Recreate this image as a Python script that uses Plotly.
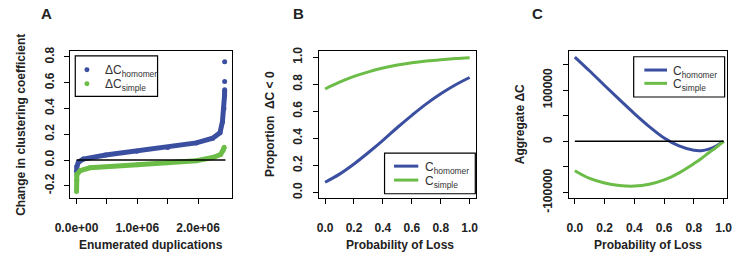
import plotly.graph_objects as go

# ---------------- data ----------------
# Panel A: sorted change in clustering coefficient per enumerated duplication
a_homomer_x = [0, 5e3, 3e4, 1.1e5, 4.8e5, 9.9e5, 1.5e6, 1.97e6, 2.24e6, 2.36e6, 2.40e6, 2.425e6, 2.435e6, 2.437e6]
a_homomer_y = [-0.09, -0.05, -0.017, 0.007, 0.039, 0.068, 0.097, 0.133, 0.169, 0.212, 0.296, 0.40, 0.50, 0.545]
a_homomer_out_x = [2.437e6, 2.437e6]
a_homomer_out_y = [0.61, 0.762]
a_simple_x = [0, 2e3, 5e3, 6e4, 2.2e5, 1.0e6, 1.5e6, 1.97e6, 2.24e6, 2.37e6, 2.41e6, 2.43e6]
a_simple_y = [-0.245, -0.16, -0.113, -0.082, -0.06, -0.036, -0.022, -0.005, 0.019, 0.043, 0.075, 0.10]
a_n_dup = 2.45e6

# Panels B and C: probability of loss
p_loss = [0.0, 0.1, 0.2, 0.3, 0.4, 0.5, 0.6, 0.7, 0.8, 0.9, 1.0]
b_homomer = [0.075, 0.135, 0.21, 0.295, 0.385, 0.48, 0.57, 0.655, 0.73, 0.795, 0.85]
b_simple = [0.765, 0.815, 0.858, 0.892, 0.92, 0.942, 0.959, 0.972, 0.982, 0.99, 0.996]

c_x = [0.0, 0.1, 0.2, 0.3, 0.4, 0.5, 0.6, 0.7, 0.8, 0.85, 0.9, 0.95, 1.0]
c_homomer = [164500, 137300, 109000, 81300, 54200, 28900, 6600, -9000, -17500, -18100, -15100, -9000, 0]
c_simple = [-57200, -72300, -81300, -86100, -87300, -83700, -75300, -61400, -43400, -33300, -22300, -11500, 0]

a_xticks = [0, 1e6, 2e6]
a_xtext = ["0.0e+00", "1.0e+06", "2.0e+06"]
a_xminor = [5e5, 1.5e6]
a_yticks = [-0.2, 0.0, 0.2, 0.4, 0.6, 0.8]
a_ytext = ["-0.2", "0.0", "0.2", "0.4", "0.6", "0.8"]
p_ticks = [0.0, 0.2, 0.4, 0.6, 0.8, 1.0]
p_text = ["0.0", "0.2", "0.4", "0.6", "0.8", "1.0"]
c_yticks = [-100000, 0, 100000]
c_ytext = ["-100000", "0", "100000"]
c_yminor = [-50000, 50000, 150000]

BLUE = "#3b4fa0"
GREEN = "#6cbd48"
W, H = 741, 272
FONT = "Liberation Sans, Arial, sans-serif"


def px(x):
    return x / W


def py(y):
    return 1 - y / H


fig = go.Figure()

# Panel A
fig.add_trace(go.Scatter(x=a_homomer_x, y=a_homomer_y, mode="lines+markers",
                         line=dict(color=BLUE, width=5), marker=dict(color=BLUE, size=5),
                         xaxis="x", yaxis="y", showlegend=False))
fig.add_trace(go.Scatter(x=a_homomer_out_x, y=a_homomer_out_y, mode="markers",
                         marker=dict(color=BLUE, size=5), xaxis="x", yaxis="y", showlegend=False))
fig.add_trace(go.Scatter(x=a_simple_x, y=a_simple_y, mode="lines+markers",
                         line=dict(color=GREEN, width=5), marker=dict(color=GREEN, size=5),
                         xaxis="x", yaxis="y", showlegend=False))
fig.add_trace(go.Scatter(x=[0, a_n_dup], y=[0, 0], mode="lines", line=dict(color="black", width=1.5),
                         xaxis="x", yaxis="y", showlegend=False))

# Panel B
fig.add_trace(go.Scatter(x=p_loss, y=b_homomer, mode="lines", line=dict(color=BLUE, width=3, shape="spline"),
                         xaxis="x2", yaxis="y2", showlegend=False))
fig.add_trace(go.Scatter(x=p_loss, y=b_simple, mode="lines", line=dict(color=GREEN, width=3, shape="spline"),
                         xaxis="x2", yaxis="y2", showlegend=False))

# Panel C
fig.add_trace(go.Scatter(x=c_x, y=c_homomer, mode="lines", line=dict(color=BLUE, width=3, shape="spline"),
                         xaxis="x3", yaxis="y3", showlegend=False))
fig.add_trace(go.Scatter(x=c_x, y=c_simple, mode="lines", line=dict(color=GREEN, width=3, shape="spline"),
                         xaxis="x3", yaxis="y3", showlegend=False))
fig.add_trace(go.Scatter(x=[0, 1], y=[0, 0], mode="lines", line=dict(color="black", width=1.5),
                         xaxis="x3", yaxis="y3", showlegend=False))

tickfont = dict(family=FONT, size=12, color="#222222", weight="bold")
common_ax = dict(showline=True, mirror=True, linecolor="black", linewidth=1.2, ticks="outside",
                 ticklen=5, tickwidth=1, tickcolor="black", showgrid=False, zeroline=False,
                 tickfont=tickfont, tickmode="array")


def minor(vals):
    return dict(tickmode="array", tickvals=vals, ticks="outside", ticklen=5, tickwidth=1,
                tickcolor="black", showgrid=False)


ydom = [py(208.3), py(50.7)]
fig.update_layout(
    width=W, height=H, margin=dict(l=0, r=0, t=0, b=0),
    paper_bgcolor="white", plot_bgcolor="white",
    xaxis=dict(domain=[px(56), px(222)], range=[-1.01e5, 2.553e6], tickvals=a_xticks, ticktext=a_xtext,
               minor=minor(a_xminor), anchor="y", ticklabelstandoff=14, **common_ax),
    yaxis=dict(domain=ydom, range=[-0.293, 0.845], tickvals=a_yticks, ticktext=a_ytext,
               anchor="x", tickangle=-90, ticklabelstandoff=6, **common_ax),
    xaxis2=dict(domain=[px(311.7), px(473.3)], range=[-0.043, 1.043], tickvals=p_ticks, ticktext=p_text,
                anchor="y2", ticklabelstandoff=14, **common_ax),
    yaxis2=dict(domain=ydom, range=[-0.04, 1.045], tickvals=p_ticks, ticktext=p_text,
                anchor="x2", tickangle=-90, ticklabelstandoff=6, **common_ax),
    xaxis3=dict(domain=[px(569), px(731.7)], range=[-0.04, 1.022], tickvals=p_ticks, ticktext=p_text,
                anchor="y3", ticklabelstandoff=14, **common_ax),
    yaxis3=dict(domain=ydom, range=[-110000, 176000], tickvals=c_yticks, ticktext=c_ytext,
                minor=minor(c_yminor), anchor="x3", tickangle=-90, ticklabelstandoff=6, **common_ax),
)

shapes = []
annotations = []


def text(x, y, s, size=12, bold=True, angle=0, xanchor="center", yanchor="middle", color="#222222"):
    annotations.append(dict(x=px(x), y=py(y), xref="paper", yref="paper", text=s, showarrow=False,
                            textangle=angle, xanchor=xanchor, yanchor=yanchor,
                            font=dict(family=FONT, size=size, color=color,
                                      weight="bold" if bold else "normal")))


def rect(x0, y0, x1, y1):
    shapes.append(dict(type="rect", xref="paper", yref="paper", x0=px(x0), x1=px(x1), y0=py(y1), y1=py(y0),
                       line=dict(color="black", width=1.2), fillcolor="white", layer="above"))


def seg(x0, x1, y, color):
    shapes.append(dict(type="line", xref="paper", yref="paper", x0=px(x0), x1=px(x1), y0=py(y), y1=py(y),
                       line=dict(color=color, width=3), layer="above"))


def dot(x, y, color, r=2.6):
    shapes.append(dict(type="circle", xref="paper", yref="paper", x0=px(x - r), x1=px(x + r),
                       y0=py(y + r), y1=py(y - r), line=dict(width=0), fillcolor=color, layer="above"))


# panel letters
text(31, 10, "A", size=15)
text(291, 10, "B", size=15)
text(537, 10, "C", size=15)

# axis titles
text(5.5, 129.5, "Change in clustering coefficient", angle=-90)
text(139, 259, "Enumerated duplications")
text(262, 129.5, "Proportion  ΔC < 0", angle=-90)
text(395, 259.5, "Probability of Loss")
text(519.5, 129.5, "Aggregate ΔC", angle=-90)
text(650, 259.5, "Probability of Loss")

# legend A
rect(61, 55.7, 145.7, 99.3)
dot(73, 70.7, BLUE)
dot(73, 85.7, GREEN)
text(89.5, 72, "ΔC<sub>homomer</sub>", bold=False, xanchor="left", color="#333333")
text(89.5, 87, "ΔC<sub>simple</sub>", bold=False, xanchor="left", color="#333333")

# legend B
rect(379.3, 160.3, 472.7, 204)
seg(389, 414, 174.3, BLUE)
seg(389, 414, 189.3, GREEN)
text(419, 176, "C<sub>homomer</sub>", bold=False, xanchor="left", color="#333333")
text(419, 191, "C<sub>simple</sub>", bold=False, xanchor="left", color="#333333")

# legend C
rect(635.7, 56.7, 729.3, 100)
seg(646.7, 670, 71, BLUE)
seg(646.7, 670, 85.3, GREEN)
text(674.5, 72.7, "C<sub>homomer</sub>", bold=False, xanchor="left", color="#333333")
text(674.5, 87.2, "C<sub>simple</sub>", bold=False, xanchor="left", color="#333333")

fig.update_layout(shapes=shapes, annotations=annotations)
fig.write_html("out.html")
